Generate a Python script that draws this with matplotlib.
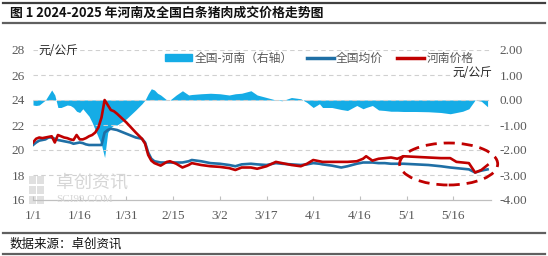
import numpy as np
import pandas as pd
import matplotlib
matplotlib.use('Agg')
import matplotlib.pyplot as plt
import matplotlib.dates as mdates
from matplotlib.patches import Ellipse, Patch, Rectangle
from matplotlib.lines import Line2D

plt.rcParams['font.family'] = ['Noto Sans CJK SC', 'DejaVu Sans']

# days counted from 2025-01-01
days = [0, 1, 2, 3, 4, 5, 6, 7, 8, 9, 10, 11, 12, 13, 14, 15, 16, 17, 18, 19,
        20, 21, 22, 23, 24, 25, 26, 27, 30, 33, 35, 36, 37, 38, 39, 40, 41, 43,
        44, 46, 48, 50, 51, 54, 57, 60, 63, 65, 67, 70, 72, 75, 78, 80, 83, 86,
        88, 90, 92, 93, 96, 99, 101, 104, 106, 107, 109, 111, 113, 115, 117, 119,
        123, 127, 131, 134, 136, 138, 140, 142, 144, 146]

henan = [20.6, 20.9, 21.0, 20.95, 21.0, 21.05, 21.1, 20.6, 21.2, 21.1, 21.0, 20.95,
         20.85, 20.8, 21.2, 20.85, 20.85, 20.95, 21.1, 21.2, 21.4, 21.8, 22.6, 24.0,
         23.6, 23.2, 23.1, 22.9, 22.2, 21.4, 20.9, 20.5, 19.6, 19.15, 18.95, 18.85,
         18.75, 19.05, 19.1, 18.9, 18.6, 18.8, 18.95, 18.8, 18.7, 18.65, 18.55, 18.4,
         18.6, 18.6, 18.5, 18.7, 19.05, 18.95, 18.8, 18.7, 18.9, 19.2, 19.1, 19.05,
         19.05, 19.05, 19.05, 19.1, 19.3, 19.5, 19.15, 19.3, 19.35, 19.4, 19.3, 19.5,
         19.45, 19.4, 19.35, 19.35, 19.05, 19.0, 18.95, 18.2, 18.4, 18.8]

national = [20.4, 20.6, 20.75, 20.8, 20.85, 21.0, 21.0, 20.9, 20.8, 20.75, 20.7, 20.65,
            20.6, 20.5, 20.55, 20.6, 20.55, 20.45, 20.4, 20.4, 20.4, 20.4, 20.4, 21.4,
            21.6, 21.7, 21.65, 21.6, 21.3, 21.0, 20.9, 20.6, 19.8, 19.3, 19.1, 19.05,
            19.0, 19.0, 19.0, 19.0, 19.0, 19.1, 19.2, 19.1, 18.95, 18.9, 18.8, 18.7,
            18.85, 18.9, 18.85, 18.8, 18.95, 18.9, 18.85, 18.8, 18.85, 18.95, 18.9, 18.85,
            18.75, 18.6, 18.7, 18.9, 19.0, 19.0, 19.0, 18.95, 18.95, 18.9, 18.9, 18.9,
            18.85, 18.8, 18.7, 18.6, 18.55, 18.5, 18.45, 18.2, 18.35, 18.45]

spread = [-0.2, -0.22, -0.2, -0.1, 0.0, 0.2, 0.4, 0.2, -0.3, -0.3, -0.25, -0.2,
          -0.22, -0.3, -0.45, -0.5, -0.35, -0.5, -0.65, -0.9, -1.2, -1.5, -1.8, -2.3,
          -1.3, -1.1, -1.0, -1.0, -0.75, -0.4, -0.15, 0.0, 0.25, 0.45, 0.4, 0.27,
          0.2, 0.0, 0.0, 0.2, 0.37, 0.2, 0.22, 0.25, 0.27, 0.25, 0.2, 0.25,
          0.27, 0.37, 0.2, 0.1, 0.0, -0.03, 0.1, 0.05, -0.1, -0.3, -0.15, -0.3,
          -0.3, -0.38, -0.42, -0.22, -0.35, -0.3, -0.22, -0.4, -0.42, -0.45, -0.45, -0.46,
          -0.46, -0.47, -0.5, -0.55, -0.5, -0.45, -0.35, 0.0, -0.05, -0.27]

tick_dates = ['2025-01-01', '2025-01-16', '2025-01-31', '2025-02-15', '2025-03-02',
              '2025-03-17', '2025-04-01', '2025-04-16', '2025-05-01', '2025-05-16']
tick_labels = ['1/1', '1/16', '1/31', '2/15', '3/2', '3/17', '4/1', '4/16', '5/1', '5/16']

dates = pd.Timestamp('2025-01-01') + pd.to_timedelta(days, unit='D')
x = mdates.date2num(dates.to_pydatetime())
x0 = mdates.date2num(pd.Timestamp('2025-01-01').to_pydatetime())

RED = '#C00000'
BLUE = '#1F6FA5'
LBLUE = '#15ACE6'
GREY = '#595959'
NUMFONT = 'Liberation Serif'

fig = plt.figure(figsize=(5.48, 2.56), dpi=100)
ax = fig.add_axes([33 / 548, 56 / 256, 458 / 548, 150 / 256])
ax2 = ax.twinx()

ax.set_zorder(2)
ax2.set_zorder(1)
ax.patch.set_visible(False)

ax2.fill_between(x, 0, spread, color=LBLUE, lw=0)
ax2.set_ylim(-4, 2)
ax2.set_yticks([2, 1, 0, -1, -2, -3, -4])
ax2.set_yticklabels(['%.2f' % v for v in [2, 1, 0, -1, -2, -3, -4]],
                    fontfamily=NUMFONT, fontsize=9.5, color=GREY)

ax.plot(x, national, color=BLUE, lw=1.9, zorder=3)
ax.plot(x, henan, color=RED, lw=1.9, zorder=4)
ax.set_ylim(16, 28)
ax.set_yticks([16, 18, 20, 22, 24, 26, 28])
ax.set_yticklabels([str(v) for v in [16, 18, 20, 22, 24, 26, 28]],
                   fontfamily=NUMFONT, fontsize=9.5, color=GREY)
ax.set_xlim(x0, x0 + 147.1)
tx = mdates.date2num(pd.to_datetime(tick_dates).to_pydatetime())
ax.set_xticks(tx)
ax.set_xticklabels(tick_labels, fontfamily=NUMFONT, fontsize=9.5, color=GREY)

for a in (ax, ax2):
    for s in ('top', 'left', 'right'):
        a.spines[s].set_visible(False)
    a.spines['bottom'].set_color('#BFBFBF')
ax.tick_params(axis='x', direction='in', length=3, color='#BFBFBF', pad=7)
ax.tick_params(axis='y', length=0, pad=6)
ax2.tick_params(axis='y', length=0, pad=6)
for v in [18, 20, 22, 24, 26, 28]:
    ax.axhline(v, color='#D0D0D0', lw=0.8, ls=(0, (4, 3)), zorder=0)

# dashed ellipse around the recent period
ell = Ellipse((x0 + 133.5, 18.88), 31.5, 3.36, fill=False, ec=RED, lw=2,
              ls=(0, (4, 2.5)), clip_on=False, zorder=5)
ax.add_patch(ell)

handles = [Patch(color=LBLUE), Line2D([], [], color=BLUE, lw=2.5),
           Line2D([], [], color=RED, lw=2.5)]
ax.legend(handles, ['全国-河南（右轴）', '全国均价', '河南价格'], ncol=3, frameon=False,
          loc='upper center', bbox_to_anchor=(0.625, 1.06), fontsize=8.5,
          handlelength=2.3, handleheight=0.5, columnspacing=1.2, handletextpad=0.2,
          labelcolor=GREY)

fig.text(38 / 548, 1 - 50 / 256, '元/公斤', fontsize=8.5, color='#262626', va='center')
fig.text(492 / 548, 1 - 73 / 256, '元/公斤', fontsize=8.5, color='#262626', va='center',
         ha='right')

# watermark
for (bx, by) in [(29, 176), (37, 176), (29, 186), (37, 186), (29, 196), (37, 196)]:
    fig.add_artist(Rectangle((bx / 548, 1 - (by + 8) / 256), 7 / 548, 8 / 256,
                             color='#E0E0E0', lw=0))
fig.text(56 / 548, 1 - 183 / 256, '卓创资讯', fontsize=13, color='#D6D6D6', va='center')
fig.text(56 / 548, 1 - 199 / 256, 'SCI99.COM', fontsize=8, color='#D6D6D6', va='center',
         fontfamily=NUMFONT)

# header and footer
fig.add_artist(Line2D([0.005, 0.995], [1 - 2.5 / 256] * 2, color='#404040', lw=1.6))
fig.add_artist(Line2D([0.005, 0.995], [1 - 23 / 256] * 2, color='#606060', lw=1.6))
fig.add_artist(Line2D([0.005, 0.995], [1 - 233 / 256] * 2, color='#606060', lw=1.6))
fig.add_artist(Line2D([0.005, 0.995], [1 - 254 / 256] * 2, color='#606060', lw=1.6))
fig.text(10 / 548, 1 - 13 / 256, '图 1 2024-2025 年河南及全国白条猪肉成交价格走势图',
         fontsize=9.3, fontweight='bold', va='center', color='#111111')
fig.text(10 / 548, 1 - 244 / 256, '数据来源：卓创资讯', fontsize=9, va='center',
         color='#111111', style='italic')

fig.savefig('out.png', dpi=100)
